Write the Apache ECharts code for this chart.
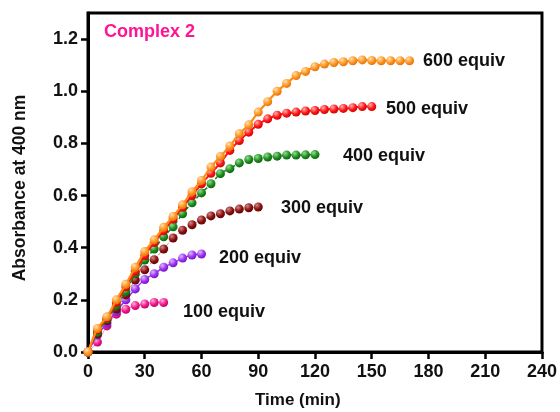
<!DOCTYPE html>
<html><head><meta charset="utf-8">
<script src="https://cdn.jsdelivr.net/npm/echarts@6/dist/echarts.min.js"></script>
<style>html,body{margin:0;padding:0;background:#fff}#c{width:560px;height:412px}</style>
</head><body><div id="c"></div>
<script>
// Time points (min)
const times = [0,5,10,15,20,25,30,35,40,45,50,55,60,65,70,75,80,85,90,95,100,105,110,115,120,125,130,135,140,145,150,155,160,165,170];

// Absorbance at 400 nm for each equivalent
const abs100 = [0,0.038,0.10,0.145,0.164,0.178,0.184,0.19,0.19];
const abs200 = [0,0.065,0.11,0.155,0.20,0.242,0.278,0.30,0.325,0.342,0.36,0.372,0.376];
const abs300 = [0,0.07,0.12,0.165,0.219,0.276,0.315,0.354,0.395,0.437,0.467,0.488,0.506,0.522,0.53,0.541,0.548,0.553,0.556];
const abs400 = [0,0.075,0.125,0.178,0.232,0.30,0.353,0.395,0.442,0.48,0.53,0.572,0.61,0.645,0.684,0.703,0.725,0.738,0.742,0.748,0.751,0.755,0.755,0.756,0.757];
const abs500 = [0,0.085,0.13,0.19,0.25,0.31,0.37,0.42,0.465,0.51,0.555,0.60,0.645,0.685,0.725,0.773,0.811,0.843,0.873,0.894,0.908,0.916,0.92,0.924,0.926,0.93,0.932,0.934,0.937,0.941,0.941];
const abs600 = [0,0.09,0.135,0.20,0.26,0.325,0.385,0.43,0.478,0.52,0.565,0.615,0.658,0.709,0.75,0.79,0.837,0.871,0.92,0.96,1.0,1.03,1.06,1.076,1.094,1.104,1.11,1.113,1.117,1.12,1.118,1.117,1.117,1.117,1.117];

const seriesNames = ['100 equiv','200 equiv','300 equiv','400 equiv','500 equiv','600 equiv'];
const xTicks = [0,30,60,90,120,150,180,210,240];
const yTicks = [0,0.2,0.4,0.6,0.8,1.0,1.2];

const FONT = '"Liberation Sans", Arial, sans-serif';

function ball(base, light, dark) {
  return {type:'radial', x:0.35, y:0.3, r:0.8,
    colorStops:[{offset:0,color:light},{offset:0.55,color:base},{offset:1,color:dark}]};
}
function pairs(vals){ return vals.map((v,i)=>[times[i], v]); }

const styles = [
  {vals:abs100, base:'#f0188c', light:'#ffb0dc', dark:'#b0005e', line:'#f0188c', lw:1, type:'solid', lo:0.5},
  {vals:abs200, base:'#9a30f0', light:'#dcb8ff', dark:'#6a10b8', line:'#9a30f0', lw:1.5, type:'solid', lo:1},
  {vals:abs300, base:'#8a1010', light:'#d08a8a', dark:'#5a0000', line:'#c88a8a', lw:1, type:'dashed', lo:1},
  {vals:abs400, base:'#1e8c1e', light:'#90e090', dark:'#0a5a0a', line:'#1e7a1e', lw:1.5, type:'dashed', lo:1},
  {vals:abs500, base:'#ff1414', light:'#ffb0b0', dark:'#c00000', line:'#ff1414', lw:2, type:'solid', lo:1},
  {vals:abs600, base:'#ff9420', light:'#ffe0b0', dark:'#d86a00', line:'#ff8c10', lw:2.2, type:'solid', lo:1}
];

const series = styles.map((s,i)=>({
  name: seriesNames[i], type:'line', data: pairs(s.vals), smooth:0.3,
  symbol:'circle', symbolSize:9, showSymbol:true,
  lineStyle:{color:s.line, width:s.lw, type:s.type, opacity:s.lo},
  itemStyle:{color: ball(s.base, s.light, s.dark), borderWidth:0},
  z: 2+i, animation:false
}));

const labelStyle = {fontFamily:FONT, fontWeight:'bold', fontSize:18, fill:'#111', verticalAlign:'middle'};
const labels = [
  {text:'Complex 2', x:104, y:33, fill:'#ff1493'},
  {text:seriesNames[5], x:423, y:62},
  {text:seriesNames[4], x:386, y:110},
  {text:seriesNames[3], x:343, y:157},
  {text:seriesNames[2], x:281, y:209},
  {text:seriesNames[1], x:219, y:259},
  {text:seriesNames[0], x:183, y:313}
];

const chart = echarts.init(document.getElementById('c'), null, {renderer:'canvas'});
chart.setOption({
  backgroundColor:'#ffffff',
  animation:false,
  grid:{left:88, right:17, top:13, bottom:60, show:true, borderColor:'#000', borderWidth:3, backgroundColor:'transparent'},
  xAxis:{type:'value', min:0, max:240, interval:30,
    axisLine:{show:true, lineStyle:{color:'#000', width:3}},
    axisTick:{show:true, inside:false, length:7, lineStyle:{color:'#000', width:2.5}},
    axisLabel:{margin:11, color:'#111', fontFamily:FONT, fontWeight:'bold', fontSize:18, customValues:xTicks},
    splitLine:{show:false}
  },
  yAxis:{type:'value', min:0, max:1.3, interval:0.2,
    axisLine:{show:true, lineStyle:{color:'#000', width:3}},
    axisTick:{show:true, inside:false, length:7, lineStyle:{color:'#000', width:2.5}, customValues:yTicks},
    axisLabel:{margin:10, color:'#111', fontFamily:FONT, fontWeight:'bold', fontSize:18, customValues:yTicks,
      formatter:v=>v.toFixed(1)},
    splitLine:{show:false}
  },
  graphic: labels.map(l=>({type:'text', left:l.x, top:l.y-10, z:100,
      style:Object.assign({}, labelStyle, {text:l.text, fill:l.fill||'#111'})})).concat([
    {type:'text', left:296-41, top:392, style:{text:'Time (min)', fontFamily:FONT, fontWeight:'bold', fontSize:17, fill:'#111'}},
    {type:'text', x:20, y:188, rotation:Math.PI/2, style:{text:'Absorbance at 400 nm', fontFamily:FONT, fontWeight:'bold', fontSize:17.5, fill:'#111', align:'center', verticalAlign:'middle'}}
  ]),
  series: series
});
</script>
</body></html>
